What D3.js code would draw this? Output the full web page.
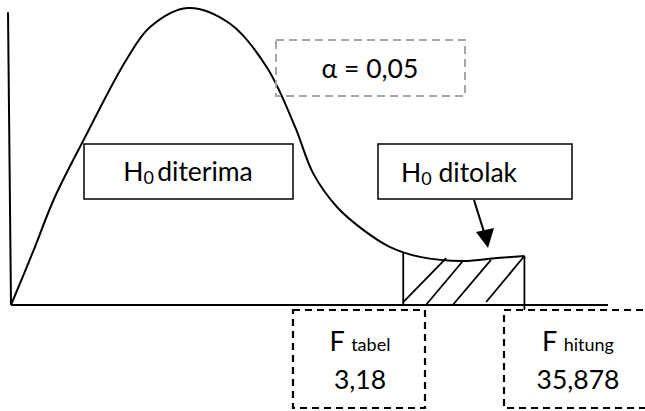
<!DOCTYPE html>
<html>
<head>
<meta charset="utf-8">
<script src="https://cdn.jsdelivr.net/npm/d3@7"></script>
<style>
  body { margin: 0; background: #fff; }
  text { font-family: Lato, "Open Sans", sans-serif; fill: #000; }
</style>
</head>
<body>
<svg id="chart" width="645" height="411"></svg>
<script>
// F distribution sketch (generic 0-100 units)
const curveX = [0, 3.8, 7.2, 12.3, 19.3, 23.3, 29.6, 36.7, 42.9, 47.6, 50.6, 54.6, 59.0, 63.5, 68.5, 75.7, 81.4, 86.0];
const curveY = [0, 18.5, 35.7, 56.1, 82.5, 93.6, 100, 94.7, 79.9, 59.9, 44.4, 33.0, 25.3, 19.5, 16.2, 14.8, 15.8, 16.5];

// rejection region and its hatch lines
const regionX = [65.7, 86.0];
const regionTop = [17.5, 16.5];
const hatchX0 = [65.7, 69.5, 74.0, 79.6];
const hatchY0 = [1, 0, 0, 1];
const hatchX1 = [72.9, 75.7, 80.4, 86.0];
const hatchY1 = [15.8, 14.8, 15.2, 16.5];

const alphaLabel = "α = 0,05";
const fTabel = "3,18";
const fHitung = "35,878";

let svg = d3.select("#chart");
let x = d3.scaleLinear().domain([0, 100]).range([11, 608]);
let y = d3.scaleLinear().domain([0, 100]).range([305, 8]);

let g = svg.append("g");

// axes (plain lines, no ticks)
g.append("line")
  .attr("x1", x(-0.5)).attr("y1", y(98.6))
  .attr("x2", x(0)).attr("y2", y(0))
  .attr("stroke", "#000").attr("stroke-width", 2);
g.append("line")
  .attr("x1", x(0)).attr("y1", y(0))
  .attr("x2", x(100)).attr("y2", y(0))
  .attr("stroke", "#000").attr("stroke-width", 2);

// curve
let pts = curveX.map((d, i) => [d, curveY[i]]);
let line = d3.line().x(d => x(d[0])).y(d => y(d[1])).curve(d3.curveCatmullRom.alpha(0.5));
g.append("path")
  .attr("d", line(pts))
  .attr("fill", "none")
  .attr("stroke", "#000")
  .attr("stroke-width", 2);

// rejection region sides
g.append("line")
  .attr("x1", x(regionX[0])).attr("y1", y(0))
  .attr("x2", x(regionX[0])).attr("y2", y(regionTop[0]))
  .attr("stroke", "#000").attr("stroke-width", 1.8);
g.append("line")
  .attr("x1", x(regionX[1])).attr("y1", y(-1.7))
  .attr("x2", x(regionX[1])).attr("y2", y(regionTop[1]))
  .attr("stroke", "#000").attr("stroke-width", 1.8);

g.selectAll("line.hatch")
  .data(hatchX0)
  .enter().append("line")
  .attr("class", "hatch")
  .attr("x1", (d, i) => x(d)).attr("y1", (d, i) => y(hatchY0[i]))
  .attr("x2", (d, i) => x(hatchX1[i])).attr("y2", (d, i) => y(hatchY1[i]))
  .attr("stroke", "#000").attr("stroke-width", 1.8);

// label boxes
function box(x0, y0, w, h, stroke, dash, sw) {
  let r = svg.append("rect")
    .attr("x", x0).attr("y", y0).attr("width", w).attr("height", h)
    .attr("fill", "none").attr("stroke", stroke).attr("stroke-width", sw);
  if (dash) r.attr("stroke-dasharray", dash);
  return r;
}

function hSub(tx, ty, rest, anchor) {
  let t = svg.append("text").attr("x", tx).attr("y", ty)
    .attr("font-size", 26.5).attr("text-anchor", anchor || "start");
  t.append("tspan").text("H");
  t.append("tspan").attr("font-size", 18).attr("dy", 3).text("0");
  t.append("tspan").attr("dy", -3).text(rest);
  return t;
}

box(84, 144, 209, 55, "#000", null, 1.5);
hSub(188, 181, "\u2009diterima", "middle");

box(378, 144, 194, 55, "#000", null, 1.5);
hSub(401, 182, " ditolak");

// arrow to the rejection region
svg.append("line")
  .attr("x1", 474).attr("y1", 200).attr("x2", 484).attr("y2", 232)
  .attr("stroke", "#000").attr("stroke-width", 2);
svg.append("path")
  .attr("d", "M476,232 L494,228 L488,248 Z")
  .attr("fill", "#000");

// alpha
box(276, 40, 189, 56, "#a6a6a6", "8,5", 2);
svg.append("text").attr("x", 370).attr("y", 78)
  .attr("text-anchor", "middle").attr("font-size", 26.5)
  .text(alphaLabel);

// F values
box(293, 310, 132, 98, "#000", "7,5", 2.2);
box(504, 310, 160, 98, "#000", "7,5", 2.2);

function fLabel(cx, sub, val) {
  let t = svg.append("text").attr("x", cx).attr("y", 351)
    .attr("text-anchor", "middle").attr("font-size", 27);
  t.append("tspan").text("F ");
  t.append("tspan").attr("font-size", 18).text(sub);
  svg.append("text").attr("x", cx).attr("y", 389)
    .attr("text-anchor", "middle").attr("font-size", 26.5)
    .text(val);
}
fLabel(360, "tabel", fTabel);
fLabel(578, "hitung", fHitung);
</script>
</body>
</html>
